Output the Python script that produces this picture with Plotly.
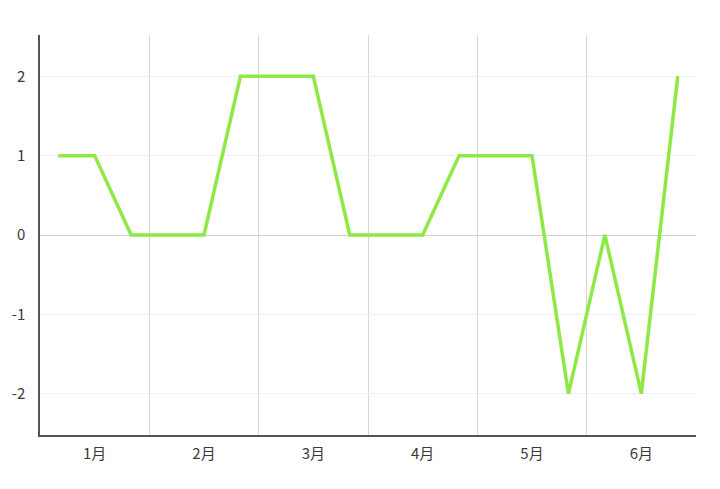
import plotly.graph_objects as go

months = ["1月", "2月", "3月", "4月", "5月", "6月"]
points_per_month = 3
values = [1, 1, 0, 0, 0, 2, 2, 2, 0, 0, 0, 1, 1, 1, -2, 0, -2, 2]
y_ticks = [-2, -1, 0, 1, 2]
y_tick_text = ["-2", "-1", "0", "1", "2"]

n = len(values)
x = [i + 0.5 for i in range(n)]
label_pos = [i * points_per_month + points_per_month / 2 for i in range(len(months))]
boundaries = [i * points_per_month for i in range(1, len(months))]

fig = go.Figure()
fig.add_trace(go.Scatter(
    x=x, y=values, mode="lines",
    line=dict(color="#8ee845", width=3.5),
    hoverinfo="skip", showlegend=False,
))

font = dict(family="Noto Sans CJK SC, Noto Sans, sans-serif", size=15, color="#3a3a3a")

fig.update_layout(
    width=720, height=489,
    paper_bgcolor="white", plot_bgcolor="white",
    margin=dict(l=32, r=32, t=27, b=62),
    font=font,
    xaxis=dict(
        range=[0, n], tickvals=label_pos, ticktext=months,
        showgrid=False, zeroline=False,
        showline=True, linecolor="#555555", linewidth=1.5,
        ticks="", ticklabelstandoff=4, automargin=False,
        minor=dict(tickvals=boundaries, showgrid=True, gridcolor="#d6d6d6", gridwidth=1, ticks=""),
        fixedrange=True,
    ),
    yaxis=dict(
        range=[-2.52, 2.52], tickvals=y_ticks, ticktext=y_tick_text,
        showgrid=True, gridcolor="#f0f0f0", gridwidth=1,
        zeroline=True, zerolinecolor="#cfcfcf", zerolinewidth=1,
        showline=True, linecolor="#555555", linewidth=1.5,
        ticks="", ticklabelstandoff=10, automargin=False,
        fixedrange=True,
    ),
)

fig.write_html("out.html")
